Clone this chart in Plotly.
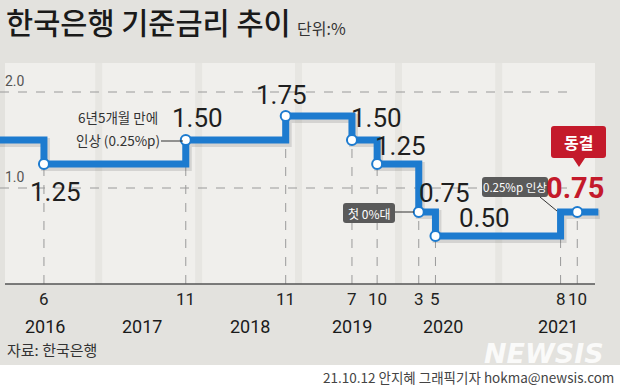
import plotly.graph_objects as go
import pandas as pd

W, H = 620, 389

# ---------------- data ----------------
change_dates = ["2016-06-15", "2017-11-15", "2018-11-15", "2019-07-15", "2019-10-15",
                "2020-03-15", "2020-05-15", "2021-08-15", "2021-10-15"]
change_months = ["6", "11", "11", "7", "10", "3", "5", "8", "10"]
rates = [1.25, 1.50, 1.75, 1.50, 1.25, 0.75, 0.50, 0.75, 0.75]
marked = [True, True, True, True, True, True, True, False, True]
start_date, start_rate = "2016-01-01", 1.50
end_date = "2021-12-31"
years = ["2016", "2017", "2018", "2019", "2020", "2021"]
year_label_dates = ["2016-06-19", "2017-06-08", "2018-07-07", "2019-07-14", "2020-06-12", "2021-08-06"]
grid_levels = [1.0, 2.0]
grid_labels = ["1.0", "2.0"]

# ---------------- styles ----------------
BG = "#e3e2de"
PANEL = "#f0efec"
STRIPE = "#e7e6e2"
BLUE = "#1d7bcf"
RED = "#c41a2b"
DARK = "#5a5a5a"
KR = "Noto Sans CJK KR"
NUM = "Roboto, Liberation Sans, sans-serif"

ORIGIN = pd.Timestamp("2016-01-01")
DAYS_PER_PX = 3.6525
ZERO_PX, PX_PER_UNIT = 284.0, 96.0


def px_date(x):
    return ORIGIN + pd.Timedelta(days=(x + 1.5) * DAYS_PER_PX)


def fx(x):
    return x / W


def fy(y):
    return 1 - y / H


x_range = [px_date(0), px_date(W)]
y_range = [(ZERO_PX - H) / PX_PER_UNIT, ZERO_PX / PX_PER_UNIT]

fig = go.Figure()

# shadow of the step line
line_x = [start_date] + change_dates + [end_date]
line_y = [start_rate] + rates + [rates[-1]]
shadow_x = [pd.Timestamp(d) + pd.Timedelta(days=1.5 * DAYS_PER_PX) for d in line_x]
shadow_y = [v - 2.5 / PX_PER_UNIT for v in line_y]
fig.add_trace(go.Scatter(x=shadow_x, y=shadow_y, mode="lines", line_shape="hv",
                         line=dict(color="rgba(70,70,70,0.16)", width=9), hoverinfo="skip"))
fig.add_trace(go.Scatter(x=line_x, y=line_y, mode="lines", line_shape="hv",
                         line=dict(color=BLUE, width=7), hoverinfo="skip"))
mx = [d for d, m in zip(change_dates, marked) if m]
my = [r for r, m in zip(rates, marked) if m]
fig.add_trace(go.Scatter(x=mx, y=my, mode="markers",
                         marker=dict(size=10, color="white", line=dict(color=BLUE, width=2)),
                         hoverinfo="skip"))

shapes = []
# background panel with year stripes
shapes.append(dict(type="rect", xref="paper", yref="paper", x0=fx(5), x1=fx(595),
                   y0=fy(ZERO_PX), y1=fy(63), fillcolor=PANEL, line_width=0, layer="below"))
for y in years[1:]:
    jan = pd.Timestamp(f"{y}-01-01")
    shapes.append(dict(type="rect", xref="x", yref="paper",
                       x0=jan - pd.Timedelta(days=3.5 * DAYS_PER_PX),
                       x1=jan + pd.Timedelta(days=3.5 * DAYS_PER_PX),
                       y0=fy(ZERO_PX), y1=fy(63), fillcolor=STRIPE, line_width=0, layer="below"))
# bottom white strip
shapes.append(dict(type="rect", xref="paper", yref="paper", x0=0, x1=1, y0=0, y1=fy(365),
                   fillcolor="white", line_width=0, layer="below"))
# horizontal dashed grid
for g in grid_levels:
    shapes.append(dict(type="line", xref="paper", yref="y", x0=0, x1=fx(573), y0=g, y1=g,
                       line=dict(color="#9a9a9a", width=1, dash="dash"), layer="below"))
# vertical dashed drop lines
prev = start_rate
for d, r in zip(change_dates, rates):
    shapes.append(dict(type="line", xref="x", yref="y", x0=d, x1=d, y0=0, y1=min(prev, r),
                       line=dict(color="#9a9a9a", width=1, dash="dash"), layer="below"))
    prev = r
# axis line
shapes.append(dict(type="line", xref="paper", yref="y", x0=fx(5), x1=fx(595), y0=0, y1=0,
                   line=dict(color="#555555", width=1.5)))


def rrect(x0, y0, x1, y1, r, tip=None):
    p = f"M {fx(x0 + r)},{fy(y0)} L {fx(x1 - r)},{fy(y0)} Q {fx(x1)},{fy(y0)} {fx(x1)},{fy(y0 + r)} "
    p += f"L {fx(x1)},{fy(y1 - r)} Q {fx(x1)},{fy(y1)} {fx(x1 - r)},{fy(y1)} "
    if tip:
        tx, ty, hw = tip
        p += f"L {fx(tx + hw)},{fy(y1)} L {fx(tx)},{fy(ty)} L {fx(tx - hw)},{fy(y1)} "
    p += f"L {fx(x0 + r)},{fy(y1)} Q {fx(x0)},{fy(y1)} {fx(x0)},{fy(y1 - r)} "
    p += f"L {fx(x0)},{fy(y0 + r)} Q {fx(x0)},{fy(y0)} {fx(x0 + r)},{fy(y0)} Z"
    return p


shapes.append(dict(type="path", xref="paper", yref="paper", path=rrect(551, 126, 606, 158, 3, (579, 167, 6)),
                   fillcolor=RED, line_width=0))
shapes.append(dict(type="path", xref="paper", yref="paper", path=rrect(343, 203, 395, 223, 3),
                   fillcolor=DARK, line_width=0))
shapes.append(dict(type="path", xref="paper", yref="paper", path=rrect(482, 177, 548, 197, 3),
                   fillcolor=DARK, line_width=0))
# connectors
for (a, b, c, d) in [(161, 141, 183, 141), (395, 212, 414, 212), (540, 197, 557, 211)]:
    shapes.append(dict(type="line", xref="paper", yref="paper", x0=fx(a), y0=fy(b), x1=fx(c), y1=fy(d),
                       line=dict(color="#333333", width=1)))

ann = []


def T(x, y, text, size, color="#222222", family=KR, xanchor="center", weight="normal", xref="paper"):
    ann.append(dict(x=x if xref != "paper" else fx(x), y=fy(y), xref=xref, yref="paper", text=text,
                    showarrow=False, xanchor=xanchor, yanchor="middle",
                    font=dict(size=size, color=color, family=family, weight=weight)))


# titles
T(4, 21, "한국은행 기준금리 추이", 29.5, "#1a1a1a", KR, "left", 500)
T(295, 28, "단위:%", 16, "#333333", KR, "left")
T(5, 349, "자료: 한국은행", 15, "#333333", KR, "left")
T(616, 377, "21.10.12 안지혜 그래픽기자 hokma@newsis.com", 13.5, "#444444", KR, "right")
ann.append(dict(x=fx(606), y=fy(353), xref="paper", yref="paper", text="<i>NEWSIS</i>", showarrow=False,
                xanchor="right", yanchor="middle",
                font=dict(size=27, color="rgba(255,255,255,0.85)", family="DejaVu Sans", weight="bold")))

# grid labels
for g, lab in zip(grid_levels, grid_labels):
    ann.append(dict(x=fx(3), y=g, xref="paper", yref="y", yshift=11, text=lab, showarrow=False,
                    xanchor="left", yanchor="middle", font=dict(size=14, color="#555555", family=NUM)))

# month & year labels
for d, m in zip(change_dates, change_months):
    T(d, 299, m, 17, "#222222", NUM, "center", xref="x")
for d, y in zip(year_label_dates, years):
    T(d, 326, y, 18, "#1a1a1a", NUM, "center", xref="x")

# rate value labels (offsets in px: right, down)
label_offsets = [(12, 28), (12, -22), (-4, -21), (25, -22), (23, -18), (26, -19), (49, -18), None, (-2, -24)]
for i, (d, r) in enumerate(zip(change_dates, rates)):
    off = label_offsets[i]
    if off is None:
        continue
    last = i == len(rates) - 1
    ann.append(dict(x=d, y=r, xref="x", yref="y", xshift=off[0], yshift=-off[1], text=f"{r:.2f}",
                    showarrow=False, xanchor="center", yanchor="middle",
                    font=dict(size=29 if last else 26, color=RED if last else "#1f1f1f", family=NUM,
                              weight="bold" if last else "normal")))

# callouts
T(118, 117, "6년5개월 만에", 13.5, "#333333")
T(118, 140, "인상 (0.25%p)", 13.5, "#333333")
T(369, 213, "첫 0%대", 12, "white")
T(515, 187, "0.25%p 인상", 11.5, "white")
T(578, 142, "동결", 16, "white", KR, "center", "bold")

fig.update_layout(
    width=W, height=H, margin=dict(l=0, r=0, t=0, b=0),
    paper_bgcolor=BG, plot_bgcolor="rgba(0,0,0,0)",
    xaxis=dict(type="date", range=x_range, visible=False, fixedrange=True),
    yaxis=dict(range=y_range, visible=False, fixedrange=True),
    showlegend=False, hovermode=False,
    shapes=shapes, annotations=ann,
)

fig.write_html("out.html", config={"displayModeBar": False, "staticPlot": True},
               post_script="document.body.style.margin='0';document.body.style.padding='0';")
